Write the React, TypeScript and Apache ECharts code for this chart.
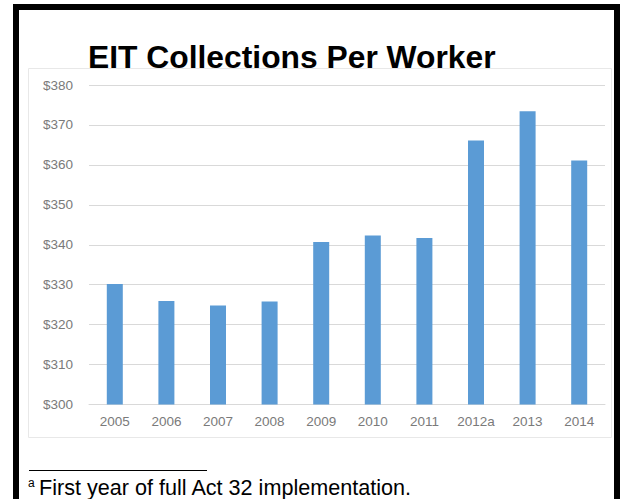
import React, { useEffect, useRef } from "react";
import * as echarts from "echarts";

const categories = ["2005", "2006", "2007", "2008", "2009", "2010", "2011", "2012a", "2013", "2014"];
const collectionsPerWorker = [330.2, 325.9, 324.8, 325.8, 340.7, 342.3, 341.7, 366.1, 373.4, 361.1];
const yMin = 300;
const yMax = 380;
const yInterval = 10;
const titleText = "EIT Collections Per Worker";
const footnoteMark = "a";
const footnoteText = "First year of full Act 32 implementation.";

const FONT = "'Liberation Sans', Arial, Helvetica, sans-serif";

export default function App() {
  const ref = useRef<HTMLDivElement>(null);
  useEffect(() => {
    if (!ref.current) return;
    const chart = echarts.init(ref.current, undefined, { renderer: "svg" });
    chart.setOption({
      animation: false,
      backgroundColor: "#ffffff",
      grid: { left: 89, right: 16, top: 85, bottom: 94.5, containLabel: false },
      xAxis: {
        type: "category",
        data: categories,
        axisLine: { show: true, lineStyle: { color: "#d9d9d9", width: 1 } },
        axisTick: { show: false },
        axisLabel: { color: "#7a7a7a", fontSize: 13.5, fontFamily: FONT, margin: 10, interval: 0 },
      },
      yAxis: {
        type: "value",
        min: yMin,
        max: yMax,
        interval: yInterval,
        axisLine: { show: false },
        axisTick: { show: false },
        axisLabel: {
          color: "#7a7a7a",
          fontSize: 13.5,
          fontFamily: FONT,
          margin: 16,
          formatter: (v: number) => "$" + v,
        },
        splitLine: { lineStyle: { color: "#d9d9d9", width: 1 } },
      },
      series: [
        {
          type: "bar",
          data: collectionsPerWorker,
          barWidth: 16,
          itemStyle: { color: "#5b9bd5" },
        },
      ],
      graphic: [
        {
          type: "rect",
          z: -1,
          silent: true,
          shape: { x: 28.5, y: 68.5, width: 583, height: 369 },
          style: { fill: "none", stroke: "#e8e8e8", lineWidth: 1 },
        },
        {
          type: "rect",
          z: 10,
          silent: true,
          shape: { x: 16, y: 7, width: 601, height: 600 },
          style: { fill: "none", stroke: "#000000", lineWidth: 6 },
        },
        {
          type: "text",
          z: 10,
          x: 88,
          y: 56.5,
          style: {
            text: titleText,
            fontFamily: FONT,
            fontWeight: "bold",
            fontSize: 31.8,
            fill: "#000000",
            verticalAlign: "middle",
            align: "left",
          },
        },
        {
          type: "line",
          z: 10,
          silent: true,
          shape: { x1: 29, y1: 470.5, x2: 207, y2: 470.5 },
          style: { stroke: "#000000", lineWidth: 1 },
        },
        {
          type: "text",
          z: 10,
          x: 28,
          y: 483,
          style: {
            text: footnoteMark,
            fontFamily: FONT,
            fontSize: 12,
            fill: "#000000",
            verticalAlign: "middle",
            align: "left",
          },
        },
        {
          type: "text",
          z: 10,
          x: 39,
          y: 487.5,
          style: {
            text: footnoteText,
            fontFamily: FONT,
            fontSize: 21.6,
            fill: "#000000",
            verticalAlign: "middle",
            align: "left",
          },
        },
      ],
    });
    return () => chart.dispose();
  }, []);
  return (
    <div
      ref={ref}
      style={{ position: "absolute", left: 0, top: 0, width: 621, height: 499, background: "#fff" }}
    />
  );
}
